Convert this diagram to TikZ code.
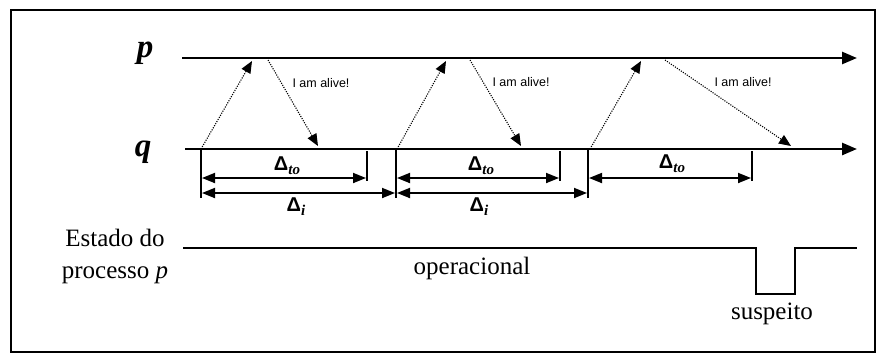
\documentclass[tikz,border=0pt]{standalone}
\usepackage{fontspec}
\setmainfont{Liberation Serif}
\setsansfont{Liberation Sans}
\usetikzlibrary{arrows.meta}

\newcommand{\dlt}[1]{{\sffamily\bfseries\fontsize{20}{20}\selectfont Δ}\raisebox{-4pt}{\bfseries\itshape\fontsize{15}{15}\selectfont #1}}

\begin{document}
\begin{tikzpicture}[x=1pt,y=-1pt,
  every node/.style={font=\fontsize{25}{32}\selectfont,inner sep=0pt},
  timeline/.style={line width=2.6pt,-{Triangle[length=15pt,width=12pt]}},
  msg/.style={line width=1.1pt,dash pattern=on 1.1pt off 1.3pt,-{Triangle[length=12pt,width=10pt]}},
  tick/.style={line width=2.8pt},
  span/.style={line width=1.8pt,{Triangle[length=13pt,width=10pt]}-{Triangle[length=13pt,width=10pt]},shorten <=1pt,shorten >=1pt},
  alive/.style={font=\sffamily\fontsize{12.5}{13}\selectfont}]
\useasboundingbox (0,0) rectangle (877,354);
\draw[line width=1.5pt] (11,10) rectangle (875,352);
% processes
\node (plabel) at (145,53) {\bfseries\itshape\fontsize{33}{33}\selectfont p};
\node (qlabel) at (143,152) {\bfseries\itshape\fontsize{33}{33}\selectfont q};
\coordinate (p0) at (182,58); \coordinate (p1) at (857,58);
\coordinate (q0) at (185,149); \coordinate (q1) at (857,149);
\draw[timeline] (p0) -- (p1);
\draw[timeline] (q0) -- (q1);
% heartbeats
\foreach \x/\y/\z/\w [count=\k] in {201/252/268/318, 397/446/470/521, 590/641/665/791}{
  \coordinate (s\k) at (\x,149); \coordinate (r\k) at (\y,61);
  \coordinate (a\k) at (\z,60); \coordinate (b\k) at (\w,146);
  \draw[msg] (s\k) -- (r\k);
  \draw[msg] (a\k) -- (b\k);
}
\node[alive] (m1) at (321,83) {I am alive!};
\node[alive] (m2) at (521,82) {I am alive!};
\node[alive] (m3) at (743,82) {I am alive!};
% intervals
\foreach \x/\t [count=\k] in {201/367, 396/560, 588/752}{
  \coordinate (t\k) at (\x,149); \coordinate (u\k) at (\x,198);
  \coordinate (v\k) at (\t,151); \coordinate (w\k) at (\t,181);
  \draw[tick] (t\k) -- (u\k);
  \draw[tick] (v\k) -- (w\k);
  \draw[span] (\x,178) -- (\t,178);
}
\draw[span] (u1|-0,193) -- (u2|-0,193);
\draw[span] (u2|-0,193) -- (u3|-0,193);
\node (to1) at (287,166) {\dlt{to}};
\node (to2) at (481,166) {\dlt{to}};
\node (to3) at (672,164) {\dlt{to}};
\node (i1) at (296,207) {\dlt{i}};
\node (i2) at (479,207) {\dlt{i}};
% state of p
\node[align=center] (state) at (115,256) {Estado do\\processo \textit{p}};
\coordinate (e0) at (183,248); \coordinate (e1) at (756,248);
\coordinate (e2) at (756,294); \coordinate (e3) at (795,294);
\coordinate (e4) at (795,248); \coordinate (e5) at (857,248);
\draw[line width=1.5pt] (e0) -- (e1) -- (e2) -- (e3) -- (e4) -- (e5);
\node (op) at (472,268) {operacional};
\node (su) at (772,314) {suspeito};
\end{tikzpicture}
\end{document}
